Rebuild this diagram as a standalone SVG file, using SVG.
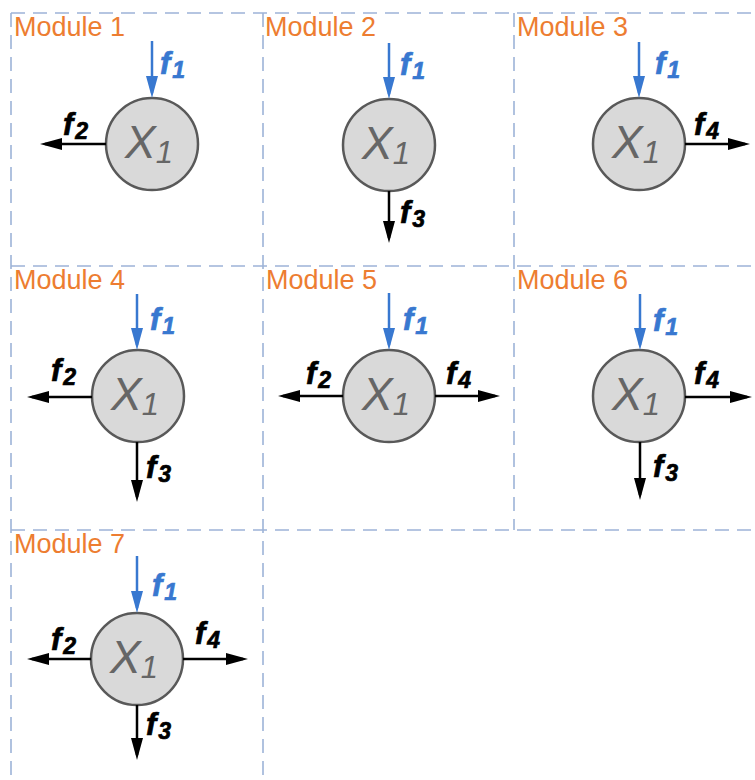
<svg xmlns="http://www.w3.org/2000/svg" width="755" height="780" viewBox="0 0 755 780">
<style>
.grid{stroke:#9db3d8;stroke-width:1.6;stroke-dasharray:14 8;fill:none}
.mlabel{font-family:"Liberation Sans",Arial,sans-serif;font-size:27px;fill:#ED7D31}
.node{fill:#d9d9d9;stroke:#595959;stroke-width:2.5}
.x{font-family:"Liberation Sans",Arial,sans-serif;font-style:italic;font-size:46px;fill:#666666}
.xs{font-size:31px}
.a{stroke:#000;stroke-width:2.5;fill:none;marker-end:url(#hk)}
.ab{stroke:#3878d0;stroke-width:2.5;fill:none;marker-end:url(#hb)}
.f{font-family:"Liberation Sans",Arial,sans-serif;font-style:italic;font-weight:bold;font-size:31px;fill:#000;stroke:#000;stroke-width:0.7}
.fb{fill:#3878d0;stroke:#3878d0}
.s{font-size:23px}
</style>
<defs>
<marker id="hk" markerUnits="userSpaceOnUse" markerWidth="22" markerHeight="12" refX="17" refY="6" orient="auto"><path d="M0,0 L22,6 L0,12 z" fill="#000"/></marker>
<marker id="hb" markerUnits="userSpaceOnUse" markerWidth="22" markerHeight="12" refX="17" refY="6" orient="auto"><path d="M0,0 L22,6 L0,12 z" fill="#3878d0"/></marker>
</defs>
<rect width="755" height="780" fill="#fff"/>
<g id="grid">
<line class="grid" x1="11" y1="13" x2="755" y2="13"/>
<line class="grid" x1="11" y1="266" x2="755" y2="266"/>
<line class="grid" x1="11" y1="530" x2="755" y2="530"/>
<line class="grid" x1="11" y1="13" x2="11" y2="780"/>
<line class="grid" x1="263" y1="13" x2="263" y2="780"/>
<line class="grid" x1="514" y1="13" x2="514" y2="530"/>
</g>
<g id="labels">
<text class="mlabel" x="14" y="36">Module 1</text>
<text class="mlabel" x="265" y="36">Module 2</text>
<text class="mlabel" x="517" y="36">Module 3</text>
<text class="mlabel" x="14" y="289">Module 4</text>
<text class="mlabel" x="266" y="289">Module 5</text>
<text class="mlabel" x="517" y="289">Module 6</text>
<text class="mlabel" x="14" y="553">Module 7</text>
</g>
<g id="module1"><circle class="node" cx="152" cy="144" r="46"/><text class="x" x="149" y="158" text-anchor="middle">X<tspan class="xs" dy="5">1</tspan></text></g>
<g id="module2"><circle class="node" cx="389" cy="145" r="46"/><text class="x" x="386" y="159" text-anchor="middle">X<tspan class="xs" dy="5">1</tspan></text></g>
<g id="module3"><circle class="node" cx="639" cy="144" r="46"/><text class="x" x="636" y="158" text-anchor="middle">X<tspan class="xs" dy="5">1</tspan></text></g>
<g id="module4"><circle class="node" cx="138" cy="396" r="46"/><text class="x" x="135" y="410" text-anchor="middle">X<tspan class="xs" dy="5">1</tspan></text></g>
<g id="module5"><circle class="node" cx="389" cy="396" r="46"/><text class="x" x="386" y="410" text-anchor="middle">X<tspan class="xs" dy="5">1</tspan></text></g>
<g id="module6"><circle class="node" cx="639" cy="396" r="46"/><text class="x" x="636" y="410" text-anchor="middle">X<tspan class="xs" dy="5">1</tspan></text></g>
<g id="module7"><circle class="node" cx="137" cy="659" r="46"/><text class="x" x="134" y="673" text-anchor="middle">X<tspan class="xs" dy="5">1</tspan></text></g>
<g id="connectors">
<line class="ab" x1="152" y1="41" x2="152" y2="93"/>
<text class="f fb" x="160" y="74">f<tspan class="s" dx="2" dy="4">1</tspan></text>
<line class="a" x1="106" y1="144" x2="45" y2="144"/>
<text class="f" x="63" y="135">f<tspan class="s" dx="2" dy="4">2</tspan></text>

<line class="ab" x1="389" y1="43" x2="389" y2="94"/>
<text class="f fb" x="400" y="75">f<tspan class="s" dx="2" dy="4">1</tspan></text>
<line class="a" x1="389" y1="191" x2="389" y2="238"/>
<text class="f" x="400" y="223">f<tspan class="s" dx="2" dy="4">3</tspan></text>

<line class="ab" x1="639" y1="42" x2="639" y2="93"/>
<text class="f fb" x="655" y="74">f<tspan class="s" dx="2" dy="4">1</tspan></text>
<line class="a" x1="685" y1="144" x2="745" y2="144"/>
<text class="f" x="694" y="135">f<tspan class="s" dx="2" dy="4">4</tspan></text>

<line class="ab" x1="137" y1="294" x2="137" y2="345"/>
<text class="f fb" x="150" y="330">f<tspan class="s" dx="2" dy="4">1</tspan></text>
<line class="a" x1="92" y1="397" x2="32" y2="397"/>
<text class="f" x="51" y="381">f<tspan class="s" dx="2" dy="4">2</tspan></text>
<line class="a" x1="137" y1="442" x2="137" y2="497"/>
<text class="f" x="146" y="478">f<tspan class="s" dx="2" dy="4">3</tspan></text>

<line class="ab" x1="389" y1="293" x2="389" y2="345"/>
<text class="f fb" x="403" y="330">f<tspan class="s" dx="2" dy="4">1</tspan></text>
<line class="a" x1="343" y1="396" x2="283" y2="396"/>
<text class="f" x="306" y="384">f<tspan class="s" dx="2" dy="4">2</tspan></text>
<line class="a" x1="435" y1="396" x2="495" y2="396"/>
<text class="f" x="446" y="384">f<tspan class="s" dx="2" dy="4">4</tspan></text>

<line class="ab" x1="640" y1="294" x2="640" y2="345"/>
<text class="f fb" x="653" y="331">f<tspan class="s" dx="2" dy="4">1</tspan></text>
<line class="a" x1="685" y1="397" x2="747" y2="397"/>
<text class="f" x="694" y="384">f<tspan class="s" dx="2" dy="4">4</tspan></text>
<line class="a" x1="640" y1="442" x2="640" y2="495"/>
<text class="f" x="653" y="477">f<tspan class="s" dx="2" dy="4">3</tspan></text>

<line class="ab" x1="137" y1="556" x2="137" y2="608"/>
<text class="f fb" x="152" y="596">f<tspan class="s" dx="2" dy="4">1</tspan></text>
<line class="a" x1="91" y1="659" x2="32" y2="659"/>
<text class="f" x="51" y="650">f<tspan class="s" dx="2" dy="4">2</tspan></text>
<line class="a" x1="183" y1="659" x2="243" y2="659"/>
<text class="f" x="195" y="644">f<tspan class="s" dx="2" dy="4">4</tspan></text>
<line class="a" x1="137" y1="705" x2="137" y2="755"/>
<text class="f" x="146" y="735">f<tspan class="s" dx="2" dy="4">3</tspan></text>
</g>
</svg>
